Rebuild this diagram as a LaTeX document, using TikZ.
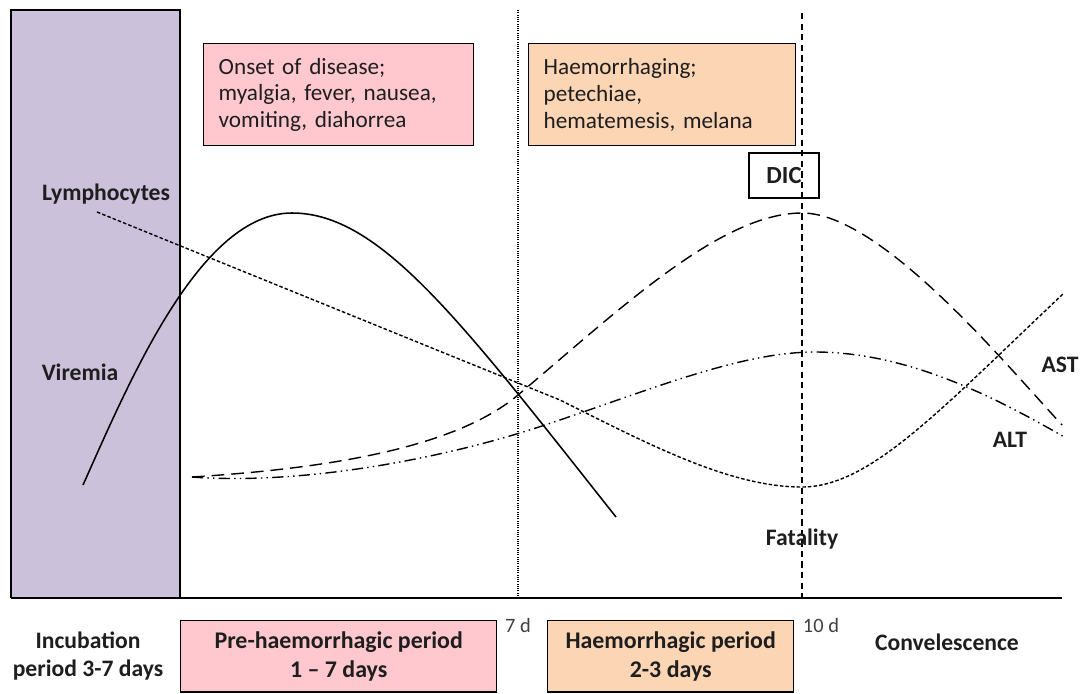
\documentclass[tikz,border=0pt]{standalone}
\usepackage{fontspec}
\setmainfont{Carlito}
\usepackage{xcolor}
\usetikzlibrary{positioning}
\definecolor{viremiabg}{RGB}{204,193,218}
\definecolor{prepink}{RGB}{255,199,206}
\definecolor{haempeach}{RGB}{252,213,181}
\definecolor{inkgrey}{RGB}{30,30,30}

\begin{document}
\begin{tikzpicture}[x=0.025cm, y=-0.025cm, font=\fontsize{16.5}{19}\selectfont, text=inkgrey,
    symptombox/.style={draw=black, line width=1pt, anchor=north west, align=left,
        minimum height=2.55cm, inner xsep=0.375cm},
    periodbox/.style={draw=black, line width=1pt, anchor=north west, align=center,
        minimum height=1.78cm, font=\fontsize{17}{20.5}\selectfont\bfseries},
    curvelbl/.style={font=\fontsize{16.8}{20}\selectfont\bfseries},
    daylbl/.style={font=\fontsize{14.5}{16}\selectfont, text=black!75},
    viremialine/.style={line width=1.1pt},
    lymphline/.style={line width=1pt, dash pattern=on 2.5pt off 1.5pt},
    astline/.style={line width=1pt, dash pattern=on 9pt off 5pt},
    altline/.style={line width=1pt, dash pattern=on 8pt off 3pt on 1pt off 3pt on 1pt off 3pt}]
    \useasboundingbox (0,0) rectangle (1090,693);
    % incubation band and time axis
    \fill[viremiabg] (11,10) rectangle (180,598);
    \draw[line width=1.2pt] (11,598) -- (11,10) -- (180,10) -- (180,598);
    \draw[line width=1.2pt] (11,598) -- (1062,598);
    % symptom boxes
    \node[symptombox, fill=prepink, text width=6cm] (onset) at (203,43) {
        Onset of disease;\\
        myalgia, fever, nausea,\\
        vomiting, diahorrea
    };
    \node[symptombox, fill=haempeach, text width=5.925cm] (haemorrhaging) at (528,43) {
        Haemorrhaging;\\
        petechiae,\\
        hematemesis, melana
    };
    \node[draw=black, line width=1pt, font=\fontsize{17.5}{20}\selectfont\bfseries,
        minimum width=1.75cm, minimum height=1.12cm] (dic) at (784,175.5) {DIC};
    % curves
    \draw[viremialine] (83,485) .. controls (130,380) and (200,213) .. (292,213)
        .. controls (380,213) and (460,320) .. (616,517);
    \draw[lymphline] (97,212) -- (560,400)
        .. controls (650,445) and (730,487) .. (802,487)
        .. controls (870,487) and (940,410) .. (1064,293);
    \draw[astline] (192,477) .. controls (300,470) and (448,454) .. (518,395)
        .. controls (618,311) and (720,213) .. (802,213)
        .. controls (880,213) and (1002,360) .. (1062,425);
    \draw[altline] (192,477) .. controls (300,485) and (440,460) .. (545,425)
        .. controls (650,390) and (740,352) .. (815,352)
        .. controls (910,352) and (1000,400) .. (1066,438);
    % day markers
    \draw[line width=0.9pt, dash pattern=on 0.7pt off 0.9pt] (518,10) -- (518,598);
    \draw[line width=1pt, dash pattern=on 4.5pt off 3pt] (802,13) -- (802,598);
    % curve labels
    \node[curvelbl] (lymphocytes) at (106,194) {Lymphocytes};
    \node[curvelbl] (viremia) at (80,372) {Viremia};
    \node[curvelbl] (ast) at (1060,365) {AST};
    \node[curvelbl] (alt) at (1010,440) {ALT};
    \node[curvelbl] (fatality) at (802,539) {Fatality};
    % periods
    \node[curvelbl, align=center] (incubation) at (88,656) {Incubation\\period 3-7 days};
    \node[periodbox, fill=prepink, minimum width=7.9cm] (prehaem) at (180,620) {Pre-haemorrhagic period\\1 – 7 days};
    \node[periodbox, fill=haempeach, minimum width=6.15cm] (haemperiod) at (547,620) {Haemorrhagic period\\2-3 days};
    \node[daylbl] (sevend) at (518,625) {7 d};
    \node[daylbl, anchor=west] (tend) at (798,625) {10 d};
    \node[curvelbl] (convalescence) at (947,642) {Convelescence};
\end{tikzpicture}
\end{document}
